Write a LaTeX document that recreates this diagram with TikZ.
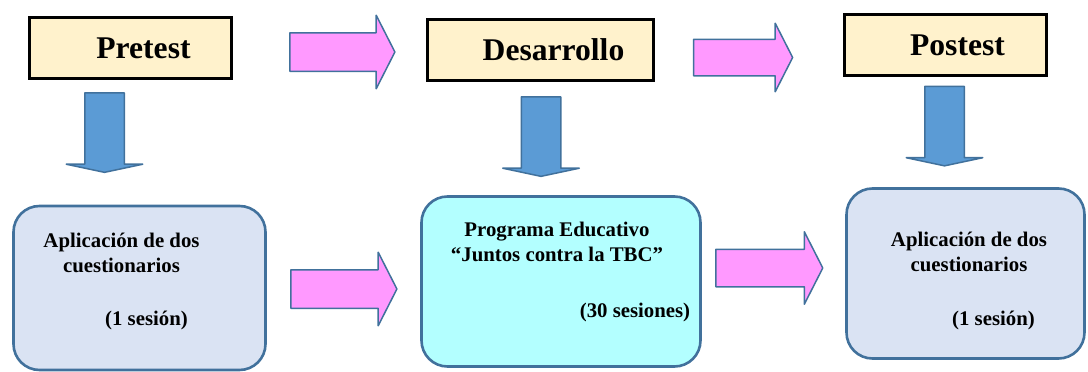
\documentclass[tikz,border=0pt]{standalone}
\usepackage{fontspec}
\setmainfont{Liberation Serif}
\usetikzlibrary{shapes.arrows}
\definecolor{phasefill}{HTML}{FFF2CC}
\definecolor{taskfill}{HTML}{DAE3F3}
\definecolor{progfill}{HTML}{B3FFFF}
\definecolor{edgeblue}{HTML}{41719C}
\definecolor{arrowpink}{HTML}{FF99FF}
\definecolor{arrowblue}{HTML}{5B9BD5}
\tikzstyle{phase}=[draw,line width=3pt,fill=phasefill,minimum height=61pt,font=\fontsize{31.6}{36}\selectfont\bfseries]
\tikzstyle{task}=[draw=edgeblue,line width=2.6pt,rounded corners=26pt,fill=taskfill]
\tikzstyle{tasktext}=[align=center,anchor=base,inner sep=0pt,font=\fontsize{20.8}{25}\selectfont\bfseries]
\tikzstyle{pinkarrow}=[single arrow,draw=edgeblue,line width=1.5pt,line join=round,fill=arrowpink,inner xsep=0pt,inner ysep=18.5pt,minimum height=105pt,single arrow head extend=17.5pt,single arrow tip angle=126]
\tikzstyle{bluearrow}=[single arrow,draw=edgeblue,line width=1.5pt,line join=round,fill=arrowblue,inner xsep=0pt,inner ysep=19pt,minimum height=79.5pt,single arrow head extend=18.5pt,single arrow tip angle=156,rotate=-90]

\begin{document}
\begin{tikzpicture}[x=1pt,y=-1pt]
\useasboundingbox (0,0) rectangle (1088,372);
% phases
\node [phase,minimum width=202pt] (pre) at (130.5,48) {\hspace*{26pt}Pretest};
\node [phase,minimum width=226pt] (des) at (540.5,50) {\hspace*{26pt}Desarrollo};
\node [phase,minimum width=202pt] (post) at (945.5,45) {\hspace*{24pt}Postest};
\node [pinkarrow] (pre2des) at (337.5,52) {};
\node [pinkarrow,minimum height=99pt,inner ysep=17.5pt,single arrow head extend=16pt] (des2post) at (738.5,57.5) {};
\node [bluearrow] (predown) at (104.5,130.5) {};
\node [bluearrow] (desdown) at (541,134.5) {};
\node [bluearrow] (postdown) at (944.5,124) {};
% tasks
\node [task,minimum width=252pt,minimum height=164pt] (pretask) at (139.5,288) {};
\node [task,fill=progfill,minimum width=279pt,minimum height=170pt] (prog) at (561,281.5) {};
\node [task,minimum width=238pt,minimum height=170pt] (posttask) at (965.5,273.5) {};
\node [pinkarrow,minimum height=106pt] (pre2prog) at (339,289) {};
\node [pinkarrow,minimum height=107pt,inner ysep=18pt,single arrow head extend=17.5pt] (prog2post) at (764.5,268) {};
\node [tasktext] (pretitle) at (121.5,272) {Aplicación de dos\\cuestionarios};
\node [tasktext] (presess) at (146.5,325) {(1 sesión)};
\node [tasktext] (progtitle) at (557,261) {Programa Educativo\\“Juntos contra la TBC”};
\node [tasktext] (progsess) at (635,317) {(30 sesiones)};
\node [tasktext] (posttitle) at (969,271) {Aplicación de dos\\cuestionarios};
\node [tasktext] (postsess) at (993.5,325) {(1 sesión)};
\end{tikzpicture}
\end{document}
